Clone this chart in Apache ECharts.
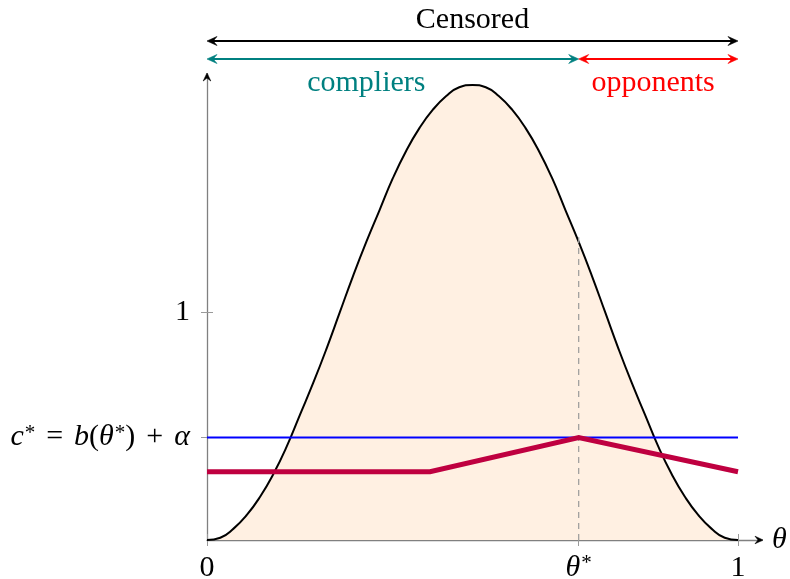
<!DOCTYPE html>
<html><head><meta charset="utf-8">
<script src="https://cdn.jsdelivr.net/npm/echarts@6/dist/echarts.min.js"></script>
<style>html,body{margin:0;padding:0;background:#fff}#chart{width:790px;height:579px}</style>
</head><body><div id="chart"></div>
<script>
// Type density over theta in [0, 1]
const thetaGrid = [0, 0.025, 0.05, 0.075, 0.1, 0.125, 0.15, 0.175, 0.2, 0.225, 0.25, 0.275, 0.3, 0.325, 0.35, 0.375, 0.4, 0.425, 0.45, 0.475, 0.5,
                   0.525, 0.55, 0.575, 0.6, 0.625, 0.65, 0.675, 0.7, 0.725, 0.75, 0.775, 0.8, 0.825, 0.85, 0.875, 0.9, 0.925, 0.95, 0.975, 1];
const density   = [0, 0.01, 0.05, 0.11, 0.19, 0.29, 0.41, 0.55, 0.69, 0.84, 1.0, 1.16, 1.31, 1.45, 1.59, 1.71, 1.81, 1.89, 1.95, 1.99, 2.0,
                   1.99, 1.95, 1.89, 1.81, 1.71, 1.59, 1.45, 1.31, 1.16, 1.0, 0.84, 0.69, 0.55, 0.41, 0.29, 0.19, 0.11, 0.05, 0.01, 0];

// Threshold c* = b(theta*) + alpha and the cut-off type theta*
const thetaStar = 0.7;
const cStar = 0.45;
const densityAtStar = 1.33;

// Piecewise-linear b(theta) + alpha
const costTheta = [0, 0.42, 0.7, 1];
const costValue = [0.30, 0.30, 0.45, 0.30];

// Axis ticks
const xTicks = [0, 0.7, 1];
const xTickLabels = ['0', '{i|θ}{s|*}', '1'];
const yTicks = [0.45, 1];
const yTickLabels = ['{i|c}{s|*}{op|=}{i|b}({i|θ}{s|*}){op|+}{i|α}', '1'];

// Group annotations above the plot
const groupSpans = [
  { name: 'compliers', from: 0, to: 0.7, color: '#008080', labelAt: 0.3 },
  { name: 'opponents', from: 0.7, to: 1, color: '#ff0000', labelAt: 0.84 }
];
const censoredSpan = { name: 'Censored', from: 0, to: 1, color: '#000000', labelAt: 0.5 };

const FONT = "'Liberation Serif', 'Times New Roman', serif";
const FS = 30;
const richStyles = {
  i: { fontFamily: FONT, fontSize: FS, fontStyle: 'italic', color: '#000' },
  op: { fontFamily: FONT, fontSize: FS, color: '#000', padding: [0, 11, 0, 11] },
  s: { fontFamily: FONT, fontSize: 21, color: '#000', verticalAlign: 'top', padding: [0, 0, 0, 1] }
};

const X_MAX = 1.0452;
const Y_MAX = 2.048;
const axisGray = '#808080';

const chart = echarts.init(document.getElementById('chart'), null, { renderer: 'canvas' });

const gridBox = { left: 207, right: 28, top: 74, bottom: 39, containLabel: false, outerBoundsMode: 'none' };

function xAxisCfg(gridIndex, inside, withLabels) {
  return {
    type: 'value', gridIndex, min: 0, max: X_MAX,
    axisLine: { show: withLabels, lineStyle: { color: axisGray, width: 1.3 } },
    splitLine: { show: false },
    axisTick: { show: true, inside, length: 6, customValues: xTicks, lineStyle: { color: '#9a9a9a', width: 1 } },
    axisLabel: withLabels ? {
      customValues: xTicks, margin: 13,
      fontFamily: FONT, fontSize: FS, color: '#000',
      rich: richStyles,
      formatter: v => xTickLabels[xTicks.findIndex(t => Math.abs(t - v) < 1e-9)]
    } : { show: false }
  };
}
function yAxisCfg(gridIndex, inside, withLabels) {
  return {
    type: 'value', gridIndex, min: 0, max: Y_MAX,
    axisLine: { show: withLabels, lineStyle: { color: axisGray, width: 1.3 } },
    splitLine: { show: false },
    axisTick: { show: true, inside, length: 6, customValues: yTicks, lineStyle: { color: '#9a9a9a', width: 1 } },
    axisLabel: withLabels ? {
      customValues: yTicks, margin: 17,
      fontFamily: FONT, fontSize: FS, color: '#000',
      rich: richStyles,
      formatter: v => yTickLabels[yTicks.findIndex(t => Math.abs(t - v) < 1e-9)]
    } : { show: false }
  };
}

chart.setOption({
  animation: false,
  backgroundColor: '#fff',
  grid: [Object.assign({}, gridBox), Object.assign({}, gridBox)],
  xAxis: [xAxisCfg(0, false, true), xAxisCfg(1, true, false)],
  yAxis: [yAxisCfg(0, false, true), yAxisCfg(1, true, false)],
  series: [
    {
      type: 'line', name: 'density', xAxisIndex: 0, yAxisIndex: 0,
      data: thetaGrid.map((t, k) => [t, density[k]]),
      smooth: true, showSymbol: false,
      lineStyle: { color: '#000', width: 2 },
      areaStyle: { color: '#fff0e2', opacity: 1 },
      z: 2
    },
    {
      type: 'line', name: 'cutoff', xAxisIndex: 0, yAxisIndex: 0,
      data: [[thetaStar, 0], [thetaStar, densityAtStar]],
      showSymbol: false,
      lineStyle: { color: '#999', width: 1.2, type: [6, 5] },
      z: 3
    },
    {
      type: 'line', name: 'cStar', xAxisIndex: 0, yAxisIndex: 0,
      data: [[0, cStar], [1, cStar]],
      showSymbol: false,
      lineStyle: { color: '#0000ff', width: 2 },
      z: 4
    },
    {
      type: 'line', name: 'cost', xAxisIndex: 0, yAxisIndex: 0,
      data: costTheta.map((t, k) => [t, costValue[k]]),
      showSymbol: false,
      lineStyle: { color: '#bf0040', width: 5, join: 'miter' },
      z: 5
    }
  ]
});

// Annotation layer: span arrows, their labels and the axis arrow heads
function px(x, y) { return chart.convertToPixel({ gridIndex: 0 }, [x, y]); }

function arrowHead(tipX, tipY, angle, color, len, half) {
  const c = Math.cos(angle), s = Math.sin(angle);
  const pt = (a, b) => [tipX + a * c - b * s, tipY + a * s + b * c];
  return {
    type: 'polygon', z: 100,
    shape: { points: [pt(0, 0), pt(-len, -half), pt(-len * 0.62, 0), pt(-len, half)] },
    style: { fill: color, stroke: color, lineWidth: 0.6 }
  };
}

function spanArrow(span, yPix) {
  const x0 = px(span.from, 0)[0], x1 = px(span.to, 0)[0];
  return [
    { type: 'line', z: 99, shape: { x1: x0 + 4, y1: yPix, x2: x1 - 4, y2: yPix },
      style: { stroke: span.color, lineWidth: 2 } },
    arrowHead(x0, yPix, Math.PI, span.color, 10, 4.5),
    arrowHead(x1, yPix, 0, span.color, 10, 4.5)
  ];
}

function spanLabel(span, yPix) {
  return {
    type: 'text', z: 100,
    x: px(span.labelAt, 0)[0], y: yPix,
    style: { text: span.name, fill: span.color, font: `${FS}px ${FONT}`, align: 'center', verticalAlign: 'middle' }
  };
}

const origin = px(0, 0);
const xEnd = px(X_MAX, 0);
const yEnd = px(0, Y_MAX);

const elements = [].concat(
  spanArrow(censoredSpan, 41),
  [spanLabel(censoredSpan, 20)],
  spanArrow(groupSpans[0], 59),
  spanArrow(groupSpans[1], 59),
  groupSpans.map(g => spanLabel(g, 83)),
  [
    arrowHead(xEnd[0] + 1, origin[1], 0, '#000', 8, 3.8),
    arrowHead(origin[0], yEnd[1] - 1, -Math.PI / 2, '#000', 8, 3.8),
    { type: 'text', z: 100, x: xEnd[0] + 10, y: origin[1],
      style: { text: 'θ', fill: '#000', font: `italic ${FS}px ${FONT}`, align: 'left', verticalAlign: 'middle' } }
  ]
);

chart.setOption({ graphic: { elements } });
</script>
</body></html>
